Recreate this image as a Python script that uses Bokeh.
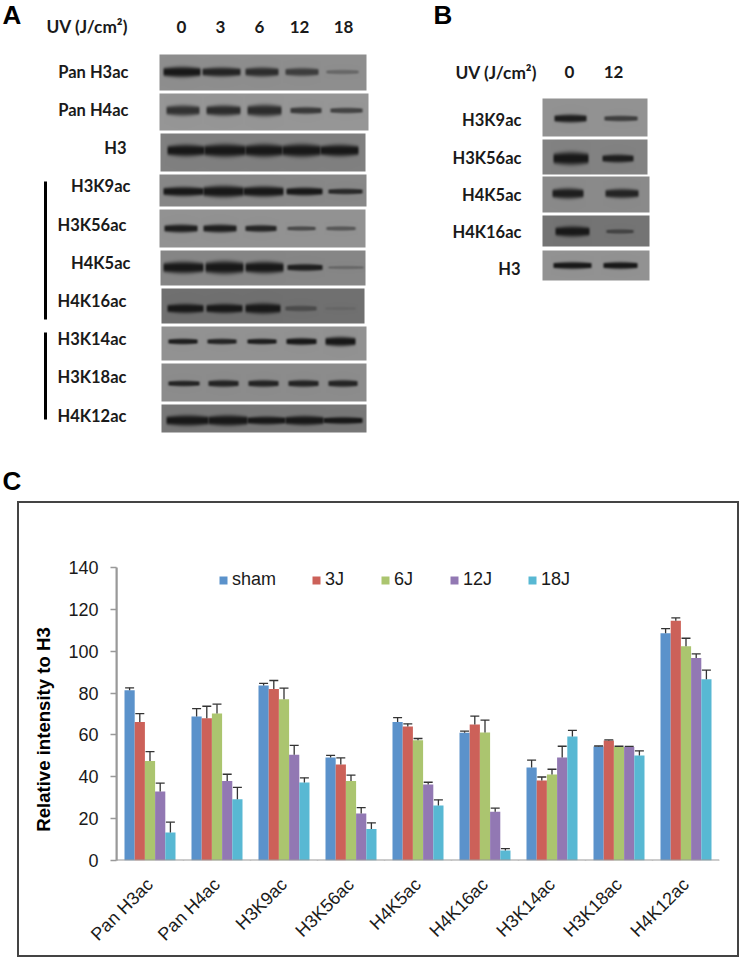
import numpy as np
from bokeh.core.properties import value
from bokeh.embed import file_html
from bokeh.layouts import column
from bokeh.models import (ColumnDataSource, FixedTicker, Legend,
                          LegendItem, LinearAxis, Range1d, Span)
from bokeh.plotting import figure
from bokeh.resources import INLINE

# ---- Panel C data -----------------------------------------------------------
categories = ["Pan H3ac", "Pan H4ac", "H3K9ac", "H3K56ac", "H4K5ac", "H4K16ac", "H3K14ac", "H3K18ac", "H4K12ac"]
series_names = ["sham", "3J", "6J", "12J", "18J"]
sham = [81.3, 68.8, 83.6, 49.2, 66.2, 61.0, 44.4, 54.5, 108.6]
j3 = [66.2, 68.0, 82.0, 45.9, 64.0, 65.0, 38.2, 57.3, 114.5]
j6 = [47.6, 70.2, 77.0, 38.0, 57.5, 61.2, 41.1, 54.2, 102.4]
j12 = [33.0, 38.0, 50.5, 22.5, 36.3, 23.3, 49.2, 54.2, 96.8]
j18 = [13.4, 29.3, 37.3, 15.1, 26.3, 4.8, 59.2, 50.2, 86.6]
sham_err = [1.2, 3.8, 1.0, 1.0, 2.1, 0.8, 3.6, 0.2, 2.2]
j3_err = [4.0, 5.7, 4.0, 3.1, 1.3, 4.0, 1.7, 0.3, 1.4]
j6_err = [4.4, 4.5, 5.4, 2.8, 0.8, 5.9, 2.5, 0.4, 3.8]
j12_err = [4.0, 3.2, 4.5, 2.8, 1.1, 1.7, 5.4, 0.3, 1.9]
j18_err = [4.9, 5.6, 2.2, 2.9, 2.7, 0.9, 3.0, 2.2, 4.4]
y_ticks = [0, 20, 40, 60, 80, 100, 120, 140]

# ---- Blot data: band strength per lane ---------------------------------------
a_doses = ["0", "3", "6", "12", "18"]
a_rows = ["Pan H3ac", "Pan H4ac", "H3", "H3K9ac", "H3K56ac", "H4K5ac", "H4K16ac", "H3K14ac", "H3K18ac", "H4K12ac"]
a_strength = [[.95, .85, .78, .65, .30], [.75, .80, .80, .70, .62], [1, 1, 1, 1, 1],
              [1, 1, 1, .95, .80], [.90, .90, .85, .55, .45], [1, 1, 1, .90, .25],
              [.95, .97, 1, .40, .10], [.90, .85, .90, .95, 1], [.85, .85, .85, .85, .85], [1, 1, 1, 1, 1]]
b_doses = ["0", "12"]
b_rows = ["H3K9ac", "H3K56ac", "H4K5ac", "H4K16ac", "H3"]
b_strength = [[.90, .65], [1, .90], [.90, .85], [1, .50], [.95, .95]]

# ---- Layout: panel box (x0,x1,y0,y1), grey, band centre, spans, heights (page px) --------
A_LAYOUT = [
    ((159, 366, 54, 90), 142, 71.5, [(163, 200), (202, 240), (245, 278), (285, 318), (326, 358)], [9, 8, 8, 7, 4]),
    ((159, 368, 93, 130), 150, 110, [(166, 199), (206, 240), (247, 281), (290, 321), (330, 362)], [9, 9, 10, 6, 5]),
    ((160, 365, 133, 171), 128, 150, [(167, 204), (204, 245), (245, 282), (282, 320), (320, 358)], [10, 11, 11, 11, 10]),
    ((159, 366, 174, 206), 136, 191, [(163, 203), (203, 243), (243, 283), (286, 322), (328, 362)], [8, 10, 9, 7, 5]),
    ((159, 365, 209, 247), 146, 228, [(164, 197), (203, 236), (245, 276), (287, 315), (326, 355)], [7, 7, 6, 4, 4]),
    ((160, 365, 250, 285), 134, 267, [(163, 203), (205, 243), (245, 283), (287, 322), (328, 363)], [10, 11, 10, 6, 3]),
    ((161, 364, 288, 323), 112, 308, [(167, 203), (206, 242), (245, 280), (285, 316), (325, 355)], [8, 8, 9, 5, 3]),
    ((161, 366, 326, 360), 146, 341, [(168, 197), (207, 236), (247, 276), (286, 316), (325, 355)], [5, 5, 5, 6, 8]),
    ((161, 366, 363, 401), 140, 383, [(168, 199), (208, 238), (248, 278), (288, 318), (328, 357)], [5, 6, 6, 6, 6]),
    ((161, 366, 404, 432), 120, 420, [(166, 208), (208, 247), (247, 285), (285, 323), (323, 362)], [9, 9, 7, 8, 6]),
]
B_LAYOUT = [
    ((542, 647, 98, 136), 146, 118, [(554, 586), (604, 637)], [7, 5]),
    ((542, 647, 139, 174), 130, 158, [(553, 588), (602, 633)], [11, 7]),
    ((542, 649, 176, 212), 138, 193, [(552, 583), (605, 638)], [9, 8]),
    ((542, 649, 215, 246), 116, 231, [(555, 589), (606, 633)], [9, 4]),
    ((542, 649, 250, 280), 146, 265, [(553, 591), (603, 637)], [6, 6]),
]

SCALE = 3


def blot_image(box, grey, yc, spans, heights, strengths):
    x0, x1, y0, y1 = box
    xs = (np.arange((x1 - x0) * SCALE) + .5) / SCALE + x0
    ys = (np.arange((y1 - y0) * SCALE) + .5) / SCALE + y0
    clear = np.ones((len(ys), len(xs)))
    for (a, b), h, s in zip(spans, heights, strengths):
        px = np.clip((xs - a + 2) / 4, 0, 1) * np.clip((b + 2 - xs) / 4, 0, 1)
        px = px * px * (3 - 2 * px)
        half = 1.2 * h / 2 * (0.75 + 0.25 * np.sin(np.pi * np.clip((xs - a) / (b - a), 0, 1)))
        py = np.exp(-np.abs((ys[:, None] - yc) / half[None, :]) ** 3)
        clear *= 1 - min(s * 1.05, 1) * px[None, :] * py
    g = 24 + (grey - 24) * clear
    g = np.clip(g, 0, 255).astype(np.uint32)
    return (255 << 24 | g << 16 | g << 8 | g).astype(np.uint32)


# ---- Top figure: panels A and B ---------------------------------------------
TOP_H = 497
top = figure(width=742, height=TOP_H, x_range=Range1d(0, 742), y_range=Range1d(TOP_H, 0),
             output_backend="svg", toolbar_location=None, min_border=0, outline_line_color=None)
top.axis.visible = False
top.grid.visible = False

for layout, strengths in ((A_LAYOUT, a_strength), (B_LAYOUT, b_strength)):
    for (box, grey, yc, spans, heights), s in zip(layout, strengths):
        x0, x1, y0, y1 = box
        top.image_rgba(image=[blot_image(box, grey, yc, spans, heights, s)], x=x0, y=y0, dw=x1 - x0, dh=y1 - y0)

LBL = dict(text_font=value("Lato"), text_font_style="bold", text_color="#1a1a1a", text_baseline="middle")
top.text(x=[128, 128, 126, 130, 126, 130, 126, 126, 126, 126],
         y=[71, 109, 147, 185, 224, 262, 300, 338, 376, 415],
         text=a_rows, text_align="right", text_font_size="16.5px", **LBL)
top.text(x=[521, 521, 521, 521, 520], y=[119, 157, 194, 231, 268], text=b_rows,
         text_align="right", text_font_size="16.5px", **LBL)
top.text(x=[181, 220, 259, 299, 343, 569, 613], y=[26, 26, 26, 26, 26, 71, 71],
         text=a_doses + b_doses, text_align="center", text_font_size="17px", **LBL)
top.text(x=[46, 455], y=[26, 72], text=["UV (J/cm²)", "UV (J/cm²)"], text_align="left",
         text_font_size="17.3px", **LBL)
top.segment(x0=[45, 45], x1=[45, 45], y0=[181, 332], y1=[319, 419], line_color="black", line_width=3)
top.text(x=[2, 433, 2], y=[14, 14, 480], text=["A", "B", "C"], text_font=value("Liberation Sans"),
         text_font_style="bold", text_font_size="26px", text_color="black", text_baseline="middle")

# ---- Bottom figure: panel C ---------------------------------------------------
BOX_L, BOX_R, BOX_T, BOX_B = 19, 737, 503, 955
F_LEFT, F_RIGHT, F_TOP, F_BOTTOM = 116, 719, 567, 860
n_cat = len(categories)
centres = [i + .5 for i in range(n_cat)]

bot = figure(width=BOX_R - BOX_L, height=BOX_B - BOX_T, frame_width=F_RIGHT - F_LEFT,
             frame_height=F_BOTTOM - F_TOP, x_range=Range1d(0, n_cat), y_range=Range1d(0, 140),
             output_backend="svg", toolbar_location=None,
             min_border_left=F_LEFT - BOX_L, min_border_right=BOX_R - F_RIGHT, min_border_top=F_TOP - BOX_T,
             min_border_bottom=BOX_B - F_BOTTOM, outline_line_color=None, margin=0,
             border_fill_color=None, background_fill_color=None)
bot.grid.visible = False

yaxis = bot.yaxis[0]
yaxis.ticker = FixedTicker(ticks=y_ticks)
yaxis.axis_line_color = "#999999"
yaxis.axis_line_width = 2
yaxis.major_tick_line_color = "#999999"
yaxis.major_tick_line_width = 1.5
yaxis.major_tick_in = 0
yaxis.major_tick_out = 6
yaxis.minor_tick_line_color = None
yaxis.major_label_standoff = 12
yaxis.major_label_text_font = "Liberation Sans"
yaxis.major_label_text_font_size = "18px"
yaxis.major_label_text_color = "#1a1a1a"
# The title sits below the plot's middle in the reference; trailing no-break spaces move it down.
yaxis.axis_label = "Relative intensity to H3" + "\u00a0" * 6
yaxis.axis_label_text_font = "Liberation Sans"
yaxis.axis_label_text_font_style = "bold"
yaxis.axis_label_text_font_size = "18.6px"
yaxis.axis_label_text_color = "black"
yaxis.axis_label_standoff = 11

bot.add_layout(Span(location=0, dimension="height", line_color="#999999", line_width=2))

xaxis = bot.xaxis[0]
xaxis.ticker = FixedTicker(ticks=centres)
xaxis.major_label_overrides = {c: name for c, name in zip(centres, categories)}
xaxis.axis_line_color = None
xaxis.major_tick_line_color = None
xaxis.minor_tick_line_color = None
xaxis.major_label_orientation = np.pi / 4
xaxis.major_label_standoff = 15
xaxis.major_label_text_font = "Liberation Sans"
xaxis.major_label_text_font_size = "18px"
xaxis.major_label_text_color = "#1a1a1a"

edges = LinearAxis(fixed_location=0, ticker=FixedTicker(ticks=list(range(n_cat + 1))),
                   axis_line_color="#999999", axis_line_width=2, major_tick_line_color="#999999",
                   major_tick_line_width=1.5, major_tick_in=0, major_tick_out=6, minor_tick_line_color=None,
                   major_label_text_font_size="0px", major_label_text_color=None)
bot.add_layout(edges, "below")

BAR_W = 51 / 5 / 67
CAP = .067
COLORS = ["#5b92cb", "#cc6159", "#abc56f", "#9278b3", "#58b8d3"]
items = []
for i, (name, vals, errs, color) in enumerate(zip(series_names, [sham, j3, j6, j12, j18],
                                                  [sham_err, j3_err, j6_err, j12_err, j18_err], COLORS)):
    xs = [c + (i - 2) * BAR_W for c in centres]
    hi = [v + e for v, e in zip(vals, errs)]
    src = ColumnDataSource(dict(x=xs, top=vals, hi=hi, cap0=[x - CAP for x in xs], cap1=[x + CAP for x in xs]))
    r = bot.vbar(x="x", top="top", width=BAR_W, bottom=0, source=src, fill_color=color, line_color=None)
    bot.segment(x0="x", x1="x", y0="top", y1="hi", source=src, line_color="#333333", line_width=1.3)
    bot.segment(x0="cap0", x1="cap1", y0="hi", y1="hi", source=src, line_color="#333333", line_width=1.3)
    items.append(LegendItem(label=name, renderers=[r]))

legend = Legend(items=items, orientation="horizontal", location=(218 - F_LEFT, F_BOTTOM - 590),
                spacing=35, glyph_width=10, glyph_height=10, label_standoff=4, padding=0, margin=0,
                border_line_color=None, background_fill_alpha=0, label_text_font="Liberation Sans",
                label_text_font_size="18px", label_text_color="#1a1a1a")
bot.add_layout(legend, "center")

boxed = column(bot, width=BOX_R - BOX_L, height=BOX_B - BOX_T, margin=(BOX_T - TOP_H, 0, 0, BOX_L),
               styles={"outline": "2px solid #444444", "outline-offset": "0px"})
page = column(column(top), boxed, spacing=0, margin=(0, -8, -16, 0))
open("out.html", "w").write(file_html(page, INLINE))
